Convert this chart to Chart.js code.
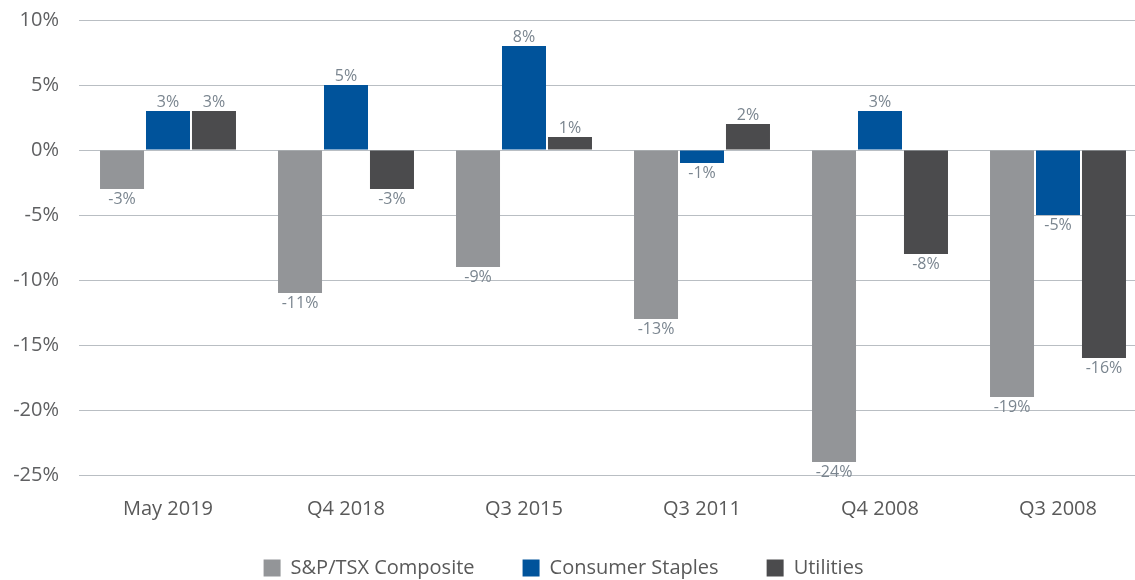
<!DOCTYPE html>
<html><head><meta charset="utf-8">
<script src="https://cdn.jsdelivr.net/npm/chart.js@4"></script>
<style>html,body{margin:0;padding:0;background:#fff;overflow:hidden;width:1135px;height:580px}#wrap{width:1147px;height:580px;position:relative}</style>
</head><body><div id="wrap"><canvas id="c"></canvas></div>
<script>
const categories = ["May 2019","Q4 2018","Q3 2015","Q3 2011","Q4 2008","Q3 2008"];
const seriesNames = ["S&P/TSX Composite","Consumer Staples","Utilities"];
const tsx = [-3,-11,-9,-13,-24,-19];
const staples = [3,5,8,-1,3,-5];
const utilities = [3,-3,1,2,-8,-16];
const yTicks = [10,5,0,-5,-10,-15,-20,-25];
const colors = ["#939598","#00539b","#4b4b4d"];

const FONT = "'Open Sans', sans-serif";
const labelPlugin = {
  id:'vals',
  afterDatasetsDraw(chart){
    const ctx = chart.ctx;
    ctx.save();
    ctx.font = "16px " + FONT;
    ctx.fillStyle = "#7a858f";
    ctx.textAlign = "center";
    chart.data.datasets.forEach((ds,i)=>{
      chart.getDatasetMeta(i).data.forEach((bar,j)=>{
        const v = ds.data[j];
        if (v >= 0){ ctx.textBaseline="bottom"; ctx.fillText(v+"%", bar.x, bar.y-1); }
        else { ctx.textBaseline="top"; ctx.fillText(v+"%", bar.x, bar.y+2); }
      });
    });
    ctx.restore();
  }
};
const pads = ['\u2003\u2003','\u2003\u2003','\u2003'];

new Chart(document.getElementById('c'),{
  type:'bar',
  data:{labels:categories,datasets:[
    {label:seriesNames[0],data:tsx,backgroundColor:colors[0]},
    {label:seriesNames[1],data:staples,backgroundColor:colors[1]},
    {label:seriesNames[2],data:utilities,backgroundColor:colors[2]}
  ]},
  options:{
    responsive:true,maintainAspectRatio:false,animation:false,
    layout:{padding:{top:0,right:0,left:0,bottom:-8}},
    datasets:{bar:{categoryPercentage:0.775,barPercentage:0.957}},
    plugins:{
      legend:{position:'bottom',labels:{boxWidth:17,boxHeight:17,padding:8,font:{family:FONT,size:20},color:'#595959',
        generateLabels(chart){
          const items = Chart.defaults.plugins.legend.labels.generateLabels(chart);
          items.forEach((it,i)=>{ it.text = it.text + pads[i]; it.lineWidth = 0; });
          return items;
        }}},
      tooltip:{enabled:false}
    },
    scales:{
      x:{grid:{display:false,drawTicks:false},border:{display:false},
         afterFit(s){ s.height = 75; },
         ticks:{font:{family:FONT,size:20},color:'#595959',padding:22}},
      y:{min:-25,max:10,
         afterBuildTicks(s){s.ticks=yTicks.map(v=>({value:v}));},
         afterFit(s){ s.width = 79; },
         grid:{color:'#b9bec3',drawTicks:true,tickLength:12,tickColor:'rgba(0,0,0,0)',lineWidth:1},border:{display:false},
         ticks:{font:{family:FONT,size:20},color:'#5f6062',padding:8,callback:v=>v+'%'}}
    }
  },
  plugins:[labelPlugin]
});
</script></body></html>
